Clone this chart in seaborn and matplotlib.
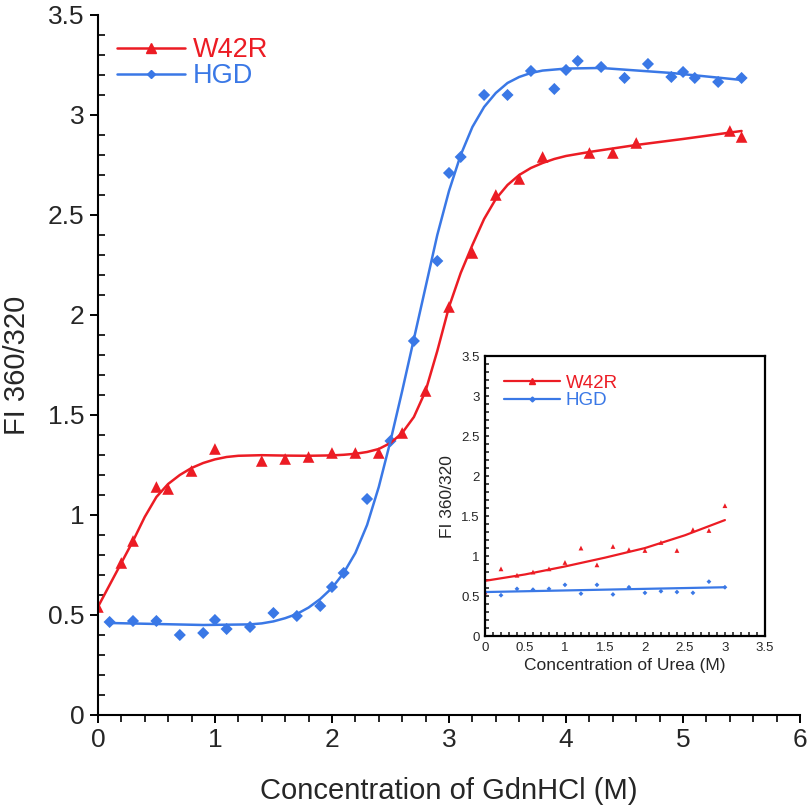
import numpy as np
import pandas as pd
import matplotlib
matplotlib.use("Agg")
import matplotlib.pyplot as plt
from matplotlib.lines import Line2D
from matplotlib.ticker import MultipleLocator
import seaborn as sns

# GdnHCl titration, measured points
w42r_x = [0, 0.2, 0.3, 0.5, 0.6, 0.8, 1.0, 1.4, 1.6, 1.8, 2.0, 2.2, 2.4, 2.6, 2.8,
          3.0, 3.2, 3.4, 3.6, 3.8, 4.2, 4.4, 4.6, 5.4, 5.5]
w42r_y = [0.54, 0.76, 0.87, 1.14, 1.13, 1.22, 1.33, 1.27, 1.28, 1.29, 1.31, 1.31, 1.31, 1.41, 1.62,
          2.04, 2.31, 2.60, 2.68, 2.79, 2.81, 2.81, 2.86, 2.92, 2.89]
hgd_x = [0.1, 0.3, 0.5, 0.7, 0.9, 1.0, 1.1, 1.3, 1.5, 1.7, 1.9, 2.0, 2.1, 2.3, 2.5,
         2.7, 2.9, 3.0, 3.1, 3.3, 3.5, 3.7, 3.9, 4.0, 4.1, 4.3, 4.5, 4.7, 4.9, 5.0,
         5.1, 5.3, 5.5]
hgd_y = [0.465, 0.47, 0.47, 0.40, 0.41, 0.475, 0.43, 0.44, 0.51, 0.495, 0.545, 0.64, 0.71, 1.08, 1.37,
         1.87, 2.27, 2.71, 2.79, 3.10, 3.10, 3.22, 3.13, 3.225, 3.27, 3.24, 3.185, 3.255, 3.19, 3.215,
         3.185, 3.165, 3.185]

# fitted curves
w42r_fit_x = [0, 0.1, 0.2, 0.3, 0.4, 0.5, 0.6, 0.7, 0.8, 0.9, 1.0, 1.1, 1.2, 1.4, 1.6, 1.8,
              2.0, 2.1, 2.2, 2.3, 2.4, 2.5, 2.6, 2.7, 2.8, 2.9, 3.0, 3.1, 3.2, 3.3, 3.4,
              3.5, 3.6, 3.7, 3.8, 3.9, 4.0, 4.2, 4.6, 5.0, 5.5]
w42r_fit_y = [0.54, 0.65, 0.76, 0.87, 0.99, 1.09, 1.155, 1.20, 1.235, 1.26, 1.278, 1.29, 1.296, 1.299, 1.297, 1.296,
              1.298, 1.301, 1.306, 1.315, 1.33, 1.36, 1.41, 1.49, 1.62, 1.82, 2.04, 2.21, 2.35, 2.48, 2.58,
              2.65, 2.70, 2.735, 2.76, 2.78, 2.795, 2.815, 2.85, 2.88, 2.92]
hgd_fit_x = [0.1, 0.5, 0.9, 1.3, 1.4, 1.5, 1.6, 1.7, 1.8, 1.9, 2.0, 2.1, 2.2, 2.3, 2.4, 2.5,
             2.6, 2.7, 2.8, 2.9, 3.0, 3.1, 3.2, 3.3, 3.4, 3.5, 3.6, 3.7, 3.8, 4.0, 4.3,
             4.9, 5.5]
hgd_fit_y = [0.46, 0.455, 0.45, 0.453, 0.458, 0.468, 0.484, 0.505, 0.537, 0.58, 0.635, 0.71, 0.81, 0.95, 1.14, 1.37,
             1.62, 1.88, 2.14, 2.40, 2.62, 2.80, 2.94, 3.04, 3.11, 3.16, 3.19, 3.21, 3.222, 3.232, 3.235,
             3.21, 3.175]

# urea titration (inset)
urea_x = [0, 0.2, 0.4, 0.6, 0.8, 1.0, 1.2, 1.4, 1.6, 1.8, 2.0, 2.2, 2.4, 2.6, 2.8, 3.0]
urea_w42r = [0.55, 0.84, 0.76, 0.80, 0.84, 0.92, 1.10, 0.89, 1.12, 1.08, 1.07, 1.17, 1.07, 1.33, 1.32, 1.63]
urea_hgd = [0.55, 0.51, 0.59, 0.58, 0.59, 0.64, 0.53, 0.64, 0.52, 0.61, 0.54, 0.56, 0.55, 0.54, 0.68, 0.61]
urea_fit_x = [0, 0.5, 1.0, 1.5, 2.0, 2.5, 3.0]
urea_w42r_fit = [0.69, 0.77, 0.87, 0.98, 1.10, 1.26, 1.45]
urea_hgd_fit = [0.55, 0.56, 0.57, 0.58, 0.59, 0.60, 0.61]

main_ticks_x = [0, 1, 2, 3, 4, 5, 6]
ticks_y = [0, 0.5, 1, 1.5, 2, 2.5, 3, 3.5]
tick_labels_y = ["0", "0.5", "1", "1.5", "2", "2.5", "3", "3.5"]

RED = "#ec1c24"
BLUE = "#3a78e6"

sns.set_style("ticks")
plt.rcParams["font.family"] = ["Liberation Sans", "DejaVu Sans"]

fig = plt.figure(figsize=(8.09, 8.09), dpi=100)
ax = fig.add_axes([0.121, 0.1162, 0.868, 0.8653])

sns.lineplot(x=w42r_fit_x, y=w42r_fit_y, ax=ax, color=RED, lw=1.8, sort=False)
sns.lineplot(x=hgd_fit_x, y=hgd_fit_y, ax=ax, color=BLUE, lw=1.8, sort=False)
sns.scatterplot(x=w42r_x, y=w42r_y, ax=ax, color=RED, marker="^", s=70, edgecolor="none")
sns.scatterplot(x=hgd_x, y=hgd_y, ax=ax, color=BLUE, marker="D", s=38, edgecolor="none")

ax.set_xlim(0, 6)
ax.set_ylim(0, 3.5)
ax.set_xticks(main_ticks_x)
ax.set_xticklabels([str(v) for v in main_ticks_x])
ax.set_yticks(ticks_y)
ax.set_yticklabels(tick_labels_y)
ax.xaxis.set_minor_locator(MultipleLocator(0.2))
ax.yaxis.set_minor_locator(MultipleLocator(0.1))
ax.tick_params(axis="both", which="major", labelsize=19, width=1.4, length=6, direction="out", color="black")
ax.tick_params(axis="x", which="minor", width=1.4, length=5, direction="out")
ax.tick_params(axis="y", which="minor", width=1.4, length=5, direction="in")
for s in ["top", "right"]:
    ax.spines[s].set_visible(False)
for s in ["left", "bottom"]:
    ax.spines[s].set_linewidth(1.5)
    ax.spines[s].set_color("black")
ax.set_xlabel("Concentration of GdnHCl (M)", fontsize=21, labelpad=18)
ax.set_ylabel("FI 360/320", fontsize=21, labelpad=12)

handles = [Line2D([], [], color=RED, lw=1.8, marker="^", ms=7),
           Line2D([], [], color=BLUE, lw=1.8, marker="D", ms=4.5)]
leg = ax.legend(handles, ["W42R", "HGD"], loc="upper left", bbox_to_anchor=(0.0, 0.995),
                frameon=False, fontsize=19.5, handlelength=2.5, handletextpad=0.3,
                labelspacing=0.0, borderaxespad=0.3)
for t, c in zip(leg.get_texts(), [RED, BLUE]):
    t.set_color(c)

# inset
ins = fig.add_axes([0.5995, 0.2138, 0.346, 0.346])
ins.set_facecolor("white")
sns.lineplot(x=urea_fit_x, y=urea_w42r_fit, ax=ins, color=RED, lw=1.6)
sns.lineplot(x=urea_fit_x, y=urea_hgd_fit, ax=ins, color=BLUE, lw=1.6)
sns.scatterplot(x=urea_x, y=urea_w42r, ax=ins, color=RED, marker="^", s=12, edgecolor="none")
sns.scatterplot(x=urea_x, y=urea_hgd, ax=ins, color=BLUE, marker="D", s=6, edgecolor="none")
ins.set_xlim(0, 3.5)
ins.set_ylim(0, 3.5)
ins.set_xticks(ticks_y)
ins.set_xticklabels(tick_labels_y)
ins.set_yticks(ticks_y)
ins.set_yticklabels(tick_labels_y)
ins.xaxis.set_minor_locator(MultipleLocator(0.1))
ins.yaxis.set_minor_locator(MultipleLocator(0.1))
ins.tick_params(axis="both", which="both", direction="in", width=1.2, length=3, labelsize=9.5, pad=4)
for s in ins.spines.values():
    s.set_linewidth(1.6)
    s.set_color("black")
ins.set_xlabel("Concentration of Urea (M)", fontsize=12.5, labelpad=3)
ins.set_ylabel("FI 360/320", fontsize=12.5, labelpad=4)
ih = [Line2D([], [], color=RED, lw=1.6, marker="^", ms=4),
      Line2D([], [], color=BLUE, lw=1.6, marker="D", ms=2.5)]
ileg = ins.legend(ih, ["W42R", "HGD"], loc="upper left", bbox_to_anchor=(0.02, 0.98),
                  frameon=False, fontsize=13.5, handlelength=3.0, handletextpad=0.3,
                  labelspacing=0.0, borderaxespad=0.3)
for t, c in zip(ileg.get_texts(), [RED, BLUE]):
    t.set_color(c)

fig.savefig("out.png", dpi=100)
